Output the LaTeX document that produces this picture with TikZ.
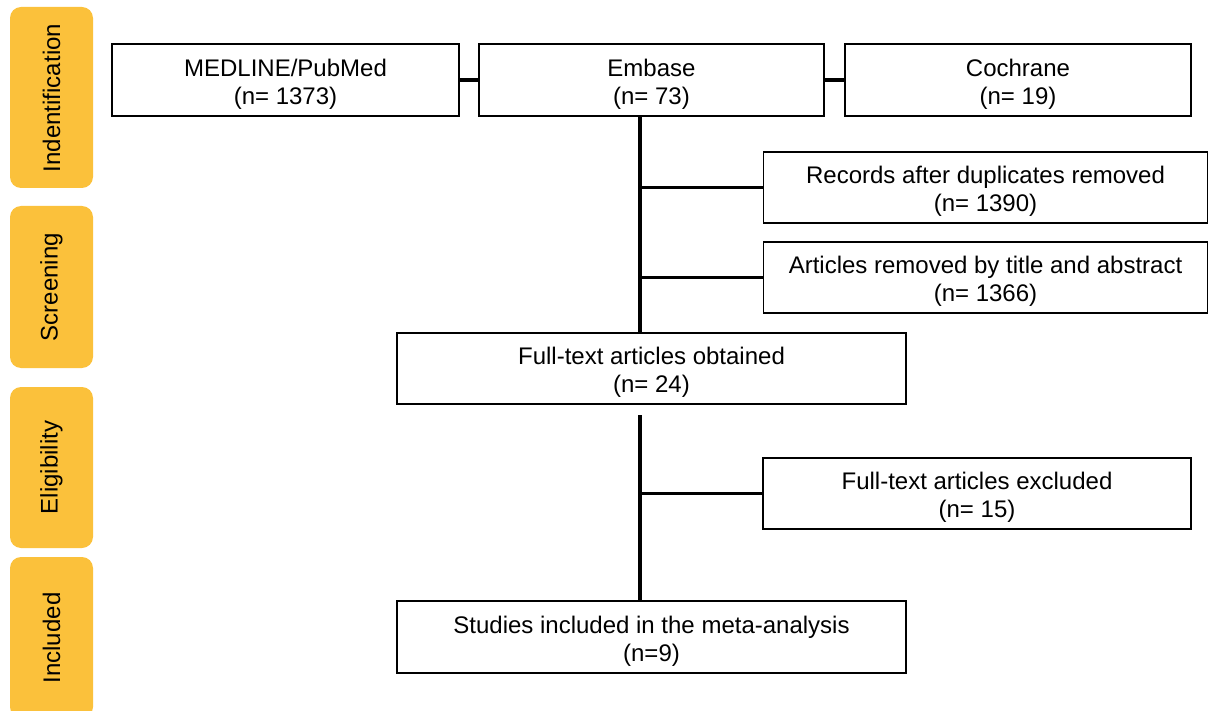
\documentclass[tikz,border=0pt]{standalone}
\usepackage{fontspec}
\setmainfont{Liberation Sans}
\definecolor{tabyellow}{RGB}{251,193,59}
\begin{document}
\begin{tikzpicture}[x=1pt,y=-1pt,
  box/.style={draw=black,line width=1.4pt,fill=white,inner sep=0pt,minimum height=71pt},
  boxtext/.style={align=center,inner sep=0pt,yshift=-4pt,font=\fontsize{24}{28}\selectfont},
  tab/.style={fill=tabyellow,rounded corners=11pt},
  tabtext/.style={rotate=90,font=\fontsize{24}{28}\selectfont,inner sep=0pt},
  link/.style={line width=3.6pt}]
\useasboundingbox (0,0) rectangle (1209,711);
% stage tabs
\fill[tab] (10,7) rectangle (93,188);
\fill[tab] (10,206) rectangle (93,368);
\fill[tab] (10,387) rectangle (93,548);
\fill[tab] (10,557) rectangle (93,718);
\node[tabtext] (t1) at (51.5,98) {Indentification};
\node[tabtext] (t2) at (51.5,287) {Screening};
\node[tabtext] (t3) at (51.5,467.5) {Eligibility};
\node[tabtext] (t4) at (51.5,638) {Included};
% boxes
\node[box,minimum width=347pt,minimum height=72pt,label={[boxtext]center:MEDLINE/PubMed\\(n= 1373)}] (med) at (285.5,80) {};
\node[box,minimum width=345pt,minimum height=72pt,label={[boxtext]center:Embase\\(n= 73)}] (emb) at (651.5,80) {};
\node[box,minimum width=346pt,minimum height=72pt,label={[boxtext]center:Cochrane\\(n= 19)}] (coch) at (1018,80) {};
\node[box,minimum width=444pt,label={[boxtext]center:Records after duplicates removed\\(n= 1390)}] (rec) at (985.5,187.5) {};
\node[box,minimum width=444pt,label={[boxtext]center:Articles removed by title and abstract\\(n= 1366)}] (art) at (985.5,277.5) {};
\node[box,minimum width=509pt,label={[boxtext]center:Full-text articles obtained\\(n= 24)}] (ft) at (651.5,368.5) {};
\node[box,minimum width=428pt,label={[boxtext]center:Full-text articles excluded\\(n= 15)}] (exc) at (977,493.5) {};
\node[box,minimum width=509pt,minimum height=72pt,label={[boxtext]center:Studies included in the meta-analysis\\(n=9)}] (stu) at (651.5,637) {};
% connectors
\coordinate (spine) at (640,0);
\coordinate (gap) at (640,415);
\draw[link] (med.east) -- (emb.west);
\draw[link] (emb.east) -- (coch.west);
\draw[link] (emb.south -| spine) -- (ft.north -| spine);
\draw[link] (rec.west -| spine) -- (rec.west);
\draw[link] (art.west -| spine) -- (art.west);
\draw[link] (gap) -- (stu.north -| gap);
\draw[link] (exc.west -| gap) -- (exc.west);
\end{tikzpicture}
\end{document}
